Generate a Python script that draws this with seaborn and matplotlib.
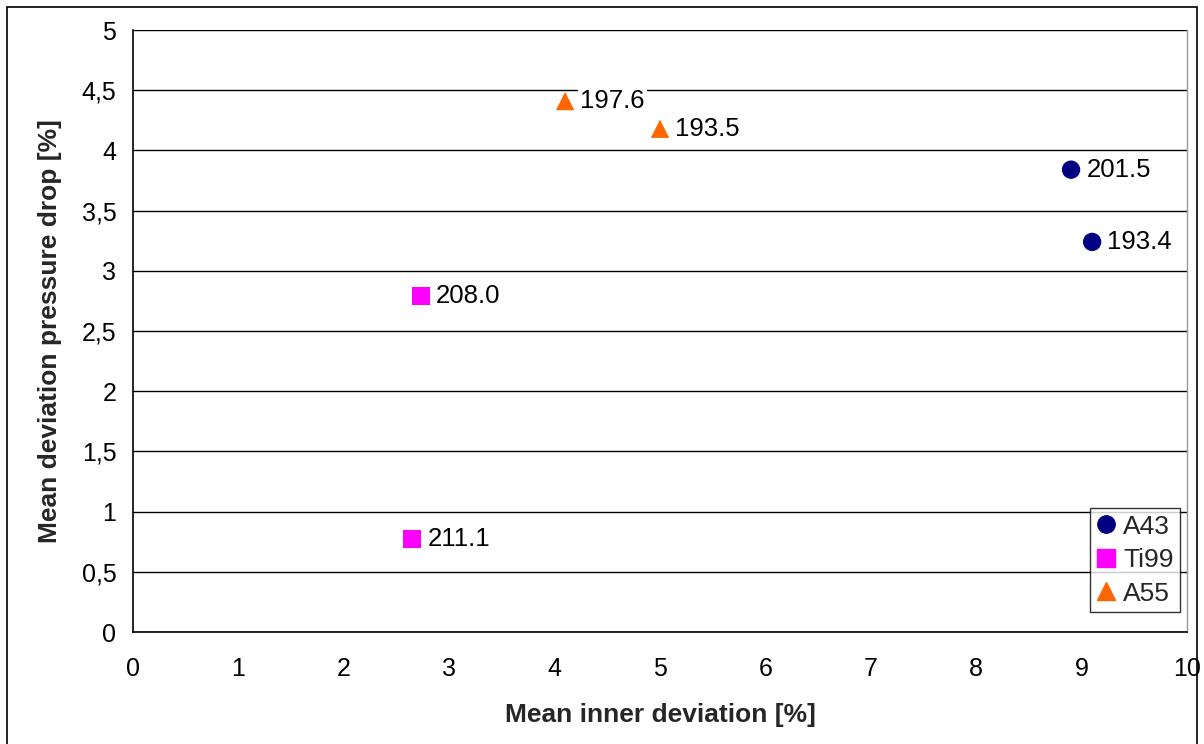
import matplotlib
matplotlib.use("Agg")
import matplotlib.pyplot as plt
import matplotlib.patches as mpatches
from matplotlib.ticker import FuncFormatter, MultipleLocator
import seaborn as sns
import pandas as pd

# Measured samples: inner deviation vs pressure-drop deviation
alloys = ["A43", "A43", "Ti99", "Ti99", "A55", "A55"]
inner_dev = [8.9, 9.1, 2.73, 2.65, 4.1, 5.0]
pressure_dev = [3.84, 3.24, 2.79, 0.77, 4.41, 4.18]
point_labels = ["201.5", "193.4", "208.0", "211.1", "197.6", "193.5"]

series_order = ["A43", "Ti99", "A55"]
series_colors = {"A43": "#000080", "Ti99": "#FF00FF", "A55": "#FF6600"}
series_markers = {"A43": "o", "Ti99": "s", "A55": "^"}

df = pd.DataFrame({"alloy": alloys, "x": inner_dev, "y": pressure_dev, "label": point_labels})

sns.set_style("white")
plt.rcParams["font.family"] = ["Liberation Sans", "DejaVu Sans"]

fig = plt.figure(figsize=(12.04, 7.44), dpi=100)
ax = fig.add_axes([133 / 1204, 1 - 632 / 744, (1187 - 133) / 1204, (632 - 30) / 744])

# outer chart frame
fig.patches.append(mpatches.Rectangle((7 / 1204, -0.05), (1197 - 7) / 1204, 1.05 - 7 / 744,
                                      transform=fig.transFigure, fill=False,
                                      edgecolor="black", linewidth=1.2))

sns.scatterplot(data=df, x="x", y="y", hue="alloy", style="alloy",
                hue_order=series_order, style_order=series_order,
                palette=series_colors, markers=series_markers,
                s=175, edgecolor="none", ax=ax, zorder=3, legend=False)

for _, row in df.iterrows():
    ax.annotate(row["label"], (row["x"], row["y"]), xytext=(11, 0),
                textcoords="offset points", ha="left", va="center",
                fontsize=18.5, color="black", zorder=4,
                bbox=dict(boxstyle="square,pad=0.1", fc="white", ec="none"))

ax.set_xlim(0, 10)
ax.set_ylim(0, 5)
ax.xaxis.set_major_locator(MultipleLocator(1))
ax.yaxis.set_major_locator(MultipleLocator(0.5))
ax.yaxis.set_major_formatter(FuncFormatter(lambda v, p: f"{v:g}".replace(".", ",")))
ax.xaxis.set_major_formatter(FuncFormatter(lambda v, p: f"{v:g}"))

ax.yaxis.grid(True, color="black", linewidth=1.0)
ax.xaxis.grid(False)
ax.set_axisbelow(True)
for side in ["left", "bottom"]:
    ax.spines[side].set_color("black")
    ax.spines[side].set_linewidth(1.2)
ax.spines["top"].set_visible(False)
ax.spines["right"].set_color("#999999")
ax.spines["right"].set_linewidth(1.0)

ax.tick_params(axis="both", which="major", direction="out", length=6, width=1.2,
               color="black", labelsize=18, labelcolor="black")
ax.tick_params(axis="x", pad=12)
ax.tick_params(axis="y", pad=6)

ax.set_xlabel("Mean inner deviation [%]", fontsize=19, fontweight="bold", labelpad=16)
ax.set_ylabel("Mean deviation pressure drop [%]", fontsize=19, fontweight="bold", labelpad=14)

handles = [plt.Line2D([], [], marker=series_markers[s], color=series_colors[s],
                      linestyle="none", markersize=12.5) for s in series_order]
leg = ax.legend(handles, series_order, loc="lower right", bbox_to_anchor=(0.9934, 0.033),
                fontsize=19, frameon=True, fancybox=False, handlelength=0.7,
                handletextpad=0.3, borderpad=0.25, labelspacing=0.36, borderaxespad=0)
leg.get_frame().set_edgecolor("black")
leg.get_frame().set_linewidth(1.0)

fig.savefig("out.png", dpi=100)
